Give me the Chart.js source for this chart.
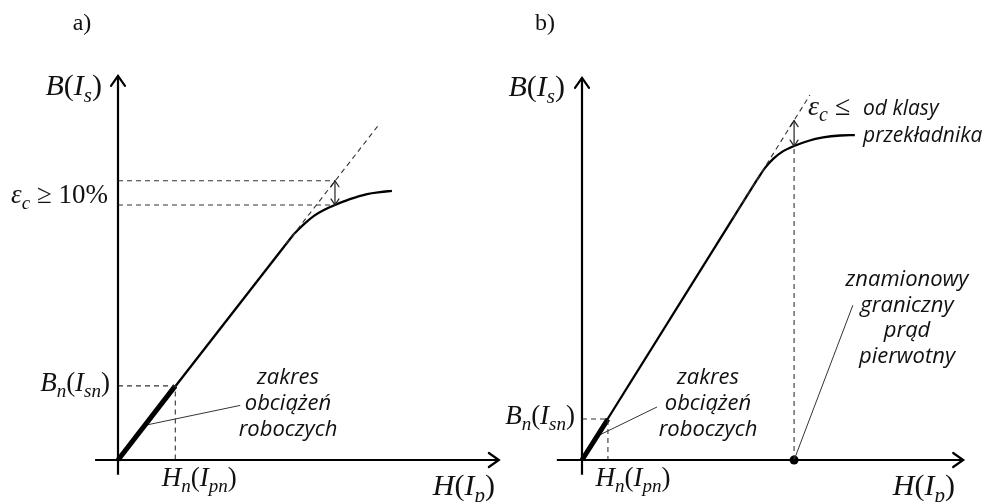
<!DOCTYPE html>
<html>
<head>
<meta charset="utf-8">
<script src="https://cdn.jsdelivr.net/npm/chart.js@4.4.1/dist/chart.umd.min.js"></script>
<style>
  body { margin: 0; background: #fff; }
  .panel { position: absolute; top: 0; }
</style>
</head>
<body>
<div class="panel" style="left:0"><canvas id="chart-a" width="520" height="502"></canvas></div>
<div class="panel" style="left:469px"><canvas id="chart-b" width="520" height="502"></canvas></div>
<script>
// a) przekładnik zabezpieczeniowy
const axisA = { x: [-0.6, 9.97], y: [-0.38, 9.85] };
const curveA = [[0, 0], [4.61, 5.8]];
const saturationA = [[4.61, 5.8], [4.87, 6.05], [5.13, 6.26], [5.39, 6.41], [5.68, 6.54],
                     [6.07, 6.69], [6.52, 6.82], [6.86, 6.87], [7.17, 6.9]];
const tangentA = [[4.4, 5.54], [6.83, 8.6]];
const ratedA = [1.5, 1.9];              // Hn, Bn
const errorA = [5.68, 6.54, 7.16];      // H, B na krzywej, B na prostej
const leaderA = [[0.71, 0.89], [3.2, 1.4]];

// b) przekładnik pomiarowy
const axisB = { x: [-0.65, 9.85], y: [-0.38, 9.8] };
const curveB = [[0, 0], [4.52, 7.18]];
const saturationB = [[4.52, 7.18], [4.73, 7.49], [4.94, 7.72], [5.17, 7.9], [5.48, 8.05],
                     [5.84, 8.18], [6.23, 8.27], [6.67, 8.32], [7.05, 8.33]];
const tangentB = [[3.9, 6.2], [5.89, 9.36]];
const ratedB = [0.67, 1.05];
const errorB = [5.48, 8.05, 8.7];
const leaderB = [[0.39, 0.61], [1.94, 1.36]];
const limitB = [[5.48, 0]];
const limitLeaderB = [[5.48, 0], [7.0, 3.97]];

const pts = arr => arr.map(([x, y]) => ({ x, y }));

function line(data, width, extra) {
  return Object.assign({
    data: pts(data),
    borderColor: '#000',
    borderWidth: width,
    pointRadius: 0,
    clip: false,
    fill: false
  }, extra || {});
}

const dashed = { borderColor: '#333', borderDash: [5, 4], borderWidth: 1.1 };

function mathText(ctx, parts, x, y, size, align) {
  const font = k => (k === 'r' ? '' : 'italic ') + (k === 's' ? Math.round(size * 0.7) : size) + 'px "Liberation Serif"';
  let w = 0;
  parts.forEach(([t, k]) => { ctx.font = font(k); w += ctx.measureText(t).width; });
  let cx = align === 'right' ? x - w : align === 'center' ? x - w / 2 : x;
  ctx.textAlign = 'left';
  ctx.textBaseline = 'alphabetic';
  parts.forEach(([t, k]) => {
    ctx.font = font(k);
    ctx.fillText(t, cx, k === 's' ? y + size * 0.22 : y);
    cx += ctx.measureText(t).width;
  });
}

function sansLines(ctx, lines, x, y, step, align, size) {
  ctx.font = 'italic ' + (size || 22) + 'px "Open Sans"';
  ctx.textAlign = align || 'center';
  ctx.textBaseline = 'alphabetic';
  lines.forEach((t, i) => ctx.fillText(t, x, y + i * step));
}

function chevron(ctx, x, y, dir) {
  const a = 10, b = 7;
  ctx.beginPath();
  if (dir === 'up') {
    ctx.moveTo(x - b, y + a); ctx.lineTo(x, y); ctx.lineTo(x + b, y + a);
  } else {
    ctx.moveTo(x - a, y - b); ctx.lineTo(x, y); ctx.lineTo(x - a, y + b);
  }
  ctx.stroke();
}

function doubleArrow(ctx, x, y1, y2) {
  ctx.lineWidth = 1.2;
  ctx.strokeStyle = '#222';
  ctx.beginPath(); ctx.moveTo(x, y1); ctx.lineTo(x, y2); ctx.stroke();
  const top = Math.min(y1, y2), bot = Math.max(y1, y2);
  ctx.beginPath();
  ctx.moveTo(x - 4, top + 6); ctx.lineTo(x, top); ctx.lineTo(x + 4, top + 6);
  ctx.moveTo(x - 4, bot - 6); ctx.lineTo(x, bot); ctx.lineTo(x + 4, bot - 6);
  ctx.stroke();
}

const decorations = {
  id: 'decorations',
  afterDatasetsDraw(chart, args, opts) {
    const { ctx, scales: { x, y } } = chart;
    const px = v => x.getPixelForValue(v);
    const py = v => y.getPixelForValue(v);
    ctx.save();
    ctx.strokeStyle = '#000';
    ctx.lineWidth = 2.2;
    ctx.lineCap = 'round';
    chevron(ctx, px(opts.axis.x[1]), py(0), 'right');
    chevron(ctx, px(0), py(opts.axis.y[1]), 'up');
    doubleArrow(ctx, px(opts.error[0]), py(opts.error[1]), py(opts.error[2]));
    ctx.fillStyle = '#111';
    opts.labels(ctx, px, py);
    ctx.restore();
  }
};

function makePanel(id, padLeft, axis, curve, saturation, tangent, rated, error, extra, labels) {
  const [hn, bn] = rated;
  const datasets = [
    line([[0, axis.y[0]], [0, axis.y[1]]], 2.2),
    line([[axis.x[0], 0], [axis.x[1], 0]], 2.2),
    line(tangent, 1.1, dashed),
    line([[0, bn], [hn, bn], [hn, 0]], 1.1, dashed),
    line(curve, 2.3),
    line(saturation, 2.3, { cubicInterpolationMode: 'monotone', borderJoinStyle: 'round' }),
    line([[0, 0], rated], 5)
  ].concat(extra);

  return new Chart(document.getElementById(id), {
    type: 'scatter',
    data: { datasets: datasets.map(d => Object.assign({ showLine: true }, d)) },
    options: {
      responsive: false,
      animation: false,
      layout: { padding: { left: padLeft, right: 20, top: 70, bottom: 42 } },
      scales: {
        x: { type: 'linear', min: 0, max: 10, display: false },
        y: { type: 'linear', min: 0, max: 10, display: false }
      },
      plugins: {
        legend: { display: false },
        tooltip: { enabled: false },
        decorations: { axis, error, labels }
      }
    },
    plugins: [decorations]
  });
}

makePanel('chart-a', 118, axisA, curveA, saturationA, tangentA, ratedA, errorA, [
  line([[0, errorA[2]], [errorA[0], errorA[2]]], 1.1, dashed),
  line([[0, errorA[1]], [errorA[0], errorA[1]]], 1.1, dashed),
  line(leaderA, 1, { borderColor: '#333' })
], (ctx, px, py) => {
  ctx.font = '24px "Liberation Serif"';
  ctx.textAlign = 'center';
  ctx.fillText('a)', 82, 30);
  mathText(ctx, [['B', 'i'], ['(', 'r'], ['I', 'i'], ['s', 's'], [')', 'r']], px(0) - 16, 95, 30, 'right');
  mathText(ctx, [['H', 'i'], ['(', 'r'], ['I', 'i'], ['p', 's'], [')', 'r']], 495, 495, 30, 'right');
  mathText(ctx, [['ε', 'i'], ['c', 's'], [' ≥ 10%', 'r']], 108, (py(errorA[1]) + py(errorA[2])) / 2 + 10, 27, 'right');
  mathText(ctx, [['B', 'i'], ['n', 's'], ['(', 'r'], ['I', 'i'], ['sn', 's'], [')', 'r']], 110, py(ratedA[1]) + 5, 27, 'right');
  mathText(ctx, [['H', 'i'], ['n', 's'], ['(', 'r'], ['I', 'i'], ['pn', 's'], [')', 'r']], px(ratedA[0]) + 24, 486, 27, 'center');
  sansLines(ctx, ['zakres', 'obciążeń', 'roboczych'], 288, 384, 26);
});

makePanel('chart-b', 113, axisB, curveB, saturationB, tangentB, ratedB, errorB, [
  line([[errorB[0], 0], [errorB[0], errorB[1]]], 1.1, dashed),
  line(leaderB, 1, { borderColor: '#333' }),
  line(limitLeaderB, 1, { borderColor: '#333' }),
  line(limitB, 0, { pointRadius: 4.5, pointBackgroundColor: '#000', pointBorderWidth: 0, showLine: false })
], (ctx, px, py) => {
  ctx.font = '24px "Liberation Serif"';
  ctx.textAlign = 'center';
  ctx.fillText('b)', 545 - 469, 30);
  mathText(ctx, [['B', 'i'], ['(', 'r'], ['I', 'i'], ['s', 's'], [')', 'r']], px(0) - 17, 96, 30, 'right');
  mathText(ctx, [['H', 'i'], ['(', 'r'], ['I', 'i'], ['p', 's'], [')', 'r']], 955 - 469, 495, 30, 'right');
  mathText(ctx, [['B', 'i'], ['n', 's'], ['(', 'r'], ['I', 'i'], ['sn', 's'], [')', 'r']], 575 - 469, py(ratedB[1]) + 5, 27, 'right');
  mathText(ctx, [['H', 'i'], ['n', 's'], ['(', 'r'], ['I', 'i'], ['pn', 's'], [')', 'r']], px(ratedB[0]) + 25, 486, 27, 'center');
  mathText(ctx, [['ε', 'i'], ['c', 's'], [' ≤', 'r']], 808 - 469, 115, 28, 'left');
  sansLines(ctx, ['od klasy', 'przekładnika'], 863 - 469, 115, 27, 'left', 21);
  sansLines(ctx, ['zakres', 'obciążeń', 'roboczych'], 708 - 469, 384, 26);
  sansLines(ctx, ['znamionowy', 'graniczny', 'prąd', 'pierwotny'], 907 - 469, 286, 25.5);
});
</script>
</body>
</html>
